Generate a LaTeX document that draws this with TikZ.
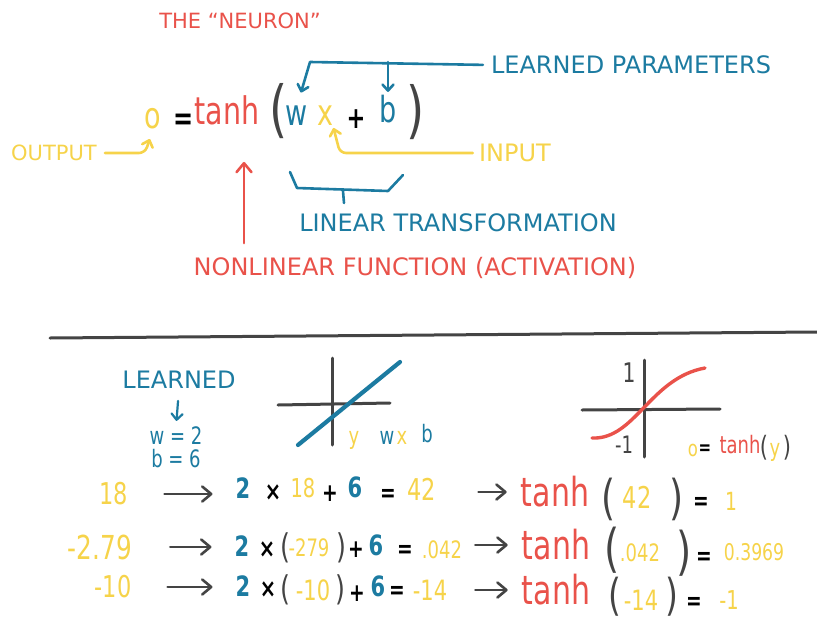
\documentclass[tikz,border=0pt]{standalone}
\usepackage{fontspec}
\setmainfont{DejaVu Sans}
\newfontfamily\narrowfont[FakeStretch=0.75]{DejaVu Sans}
\usetikzlibrary{arrows.meta}
\definecolor{nred}{HTML}{E9524A}
\definecolor{nblue}{HTML}{1C7BA1}
\definecolor{nyel}{HTML}{F6D34A}
\definecolor{ngrey}{HTML}{444444}

\begin{document}
\begin{tikzpicture}[x=1pt, y=-1pt,
  lbl/.style={inner sep=0, font=\fontsize{#1}{#1}\selectfont},
  hand/.style={inner sep=0, font=\narrowfont\fontsize{#1}{#1}\selectfont},
  hb/.style={inner sep=0, font=\narrowfont\bfseries\fontsize{#1}{#1}\selectfont},
  pen/.style={line width=2.6pt, line cap=round, line join=round},
  bigtip/.style={-{Straight Barb[round, length=9pt, width=15pt]}},
  smalltip/.style={-{Straight Barb[round, length=6pt, width=11pt]}},
  axis/.style={pen, ngrey, line width=3pt}]
  \useasboundingbox (0,0) rectangle (817,624);

  % the neuron
  \node[lbl=21, nred] (title) at (240,21) {THE “NEURON”};
  \node[hand=36, nyel] (o) at (153,119) {o};
  \node[hb=32] (eq) at (184,122) {=};
  \node[hand=38, nred] (tanh) at (227,110) {tanh};
  \node[hand=62, ngrey] (popen) at (279,111) {(};
  \node[hand=36, nblue] (w) at (297,116) {w};
  \node[hand=36, nyel] (x) at (325,116) {x};
  \node[hb=30] (plus) at (356,119) {+};
  \node[hand=36, nblue] (b) at (388,109) {b};
  \node[hand=62, ngrey] (pclose) at (416,112) {)};

  \node[lbl=24, nblue] (params) at (631,65) {LEARNED PARAMETERS};
  \node[lbl=24, nyel] (input) at (515,153) {INPUT};
  \node[lbl=21, nyel] (output) at (54,153) {OUTPUT};
  \node[lbl=24, nblue] (lin) at (458,223) {LINEAR TRANSFORMATION};
  \node[lbl=24, nred] (nonlin) at (415,268) {NONLINEAR FUNCTION (ACTIVATION)};

  \coordinate (pcorner) at (310,62);
  \draw[pen, nblue, smalltip, shorten <=8pt, shorten >=14pt] (params.west) -- (pcorner) -- (w.north);
  \draw[pen, nblue, smalltip, shorten >=3pt] (pcorner -| b.north) -- (b.north);
  \draw[pen, nyel, smalltip, rounded corners=6pt, shorten <=6pt, shorten >=2pt]
    (input.west) -- ([xshift=15pt]x.south |- input.west) -- ([xshift=8pt]x.south);
  \draw[pen, nyel, smalltip, rounded corners=6pt, shorten <=8pt, shorten >=10pt]
    (output.east) -- ([xshift=-8pt]o.south |- output.east) -- (o.south);
  \draw[pen, nred, bigtip, shorten <=14pt, shorten >=37pt]
    ([xshift=17pt]tanh.south |- nonlin.north) -- ([xshift=17pt]tanh.south);
  % bracket under wx + b
  \draw[pen, nblue] (290,172) -- (297,188) -- (388,191) -- (403,175);
  \draw[pen, nblue] (343,191) -- (344,203);

  \draw[axis] (50,338) -- (817,332);

  % learned values and the two plots
  \node[lbl=24, nblue] (learned) at (179,380) {LEARNED};
  \node[hand=24, nblue] (wval) at (176,436) {w = 2};
  \node[hand=24, nblue] (bval) at (176,459) {b = 6};
  \draw[pen, nblue, smalltip, line width=2.2pt, shorten <=12pt, shorten >=6pt] (learned.south) -- (wval.north);

  \draw[axis] (278,405) -- (390,403);
  \draw[axis] (332,358) -- (332,445);
  \draw[pen, nblue, line width=4.2pt] (298,445) -- (400,362);
  \node[hand=24, nyel] (gy) at (354,440) {y};
  \node[hand=24, nblue] (gw) at (387,438) {w};
  \node[hand=24, nyel] (gx) at (402,438) {x};
  \node[hand=24, nblue] (gb) at (427,434) {b};

  \draw[axis] (582,410) -- (720,409);
  \draw[axis] (644,360) -- (644,457);
  \draw[pen, nred, line width=3.4pt] (592,438) .. controls (635,440) and (650,378) .. (705,368);
  \node[hand=27, ngrey] (one) at (629,373) {1};
  \node[hand=24, ngrey] (mone) at (624,445) {-1};
  \node[hand=22, nyel] (go) at (693,450) {o};
  \node[hb=20] (geq) at (705,450) {=};
  \node[hand=24, nred] (gtanh) at (740,445) {tanh};
  \node[hand=28, ngrey] (gpo) at (764,448) {(};
  \node[hand=24, nyel] (gyy) at (775,452) {y};
  \node[hand=28, ngrey] (gpc) at (787,448) {)};

  % row 1
  \node[hand=30, nyel] (in1) at (114,494) {18};
  \node[hb=28, nblue] (w1) at (243,488) {2};
  \node[hb=26] (x1) at (273,493) {×};
  \node[hand=26, nyel] (v1) at (303,488) {18};
  \node[hb=25] (p1) at (330,494) {+};
  \node[hb=28, nblue] (b1) at (355,487) {6};
  \node[hb=25] (e1) at (388,495) {=};
  \node[hand=30, nyel] (z1) at (422,489) {42};
  \node[hand=40, nred] (t1) at (555,492) {tanh};
  \node[hand=48, ngrey] (tpo1) at (609,499) {(};
  \node[hand=30, nyel] (zz1) at (637,497) {42};
  \node[hand=48, ngrey] (tpc1) at (677,499) {)};
  \node[hb=25] (ee1) at (701,503) {=};
  \node[hand=25, nyel] (r1) at (731,501) {1};

  % row 2
  \node[hand=33, nyel] (in2) at (100,547) {-2.79};
  \node[hb=28, nblue] (w2) at (242,546) {2};
  \node[hb=26] (x2) at (267,550) {×};
  \node[hand=34, ngrey] (po2) at (285,548) {(};
  \node[hand=24, nyel] (v2) at (309,548) {-279};
  \node[hand=34, ngrey] (pc2) at (341,548) {)};
  \node[hb=25] (p2) at (356,550) {+};
  \node[hb=28, nblue] (b2) at (376,545) {6};
  \node[hb=25] (e2) at (405,551) {=};
  \node[hand=24, nyel] (z2) at (442,550) {.042};
  \node[hand=40, nred] (t2) at (556,545) {tanh};
  \node[hand=52, ngrey] (tpo2) at (612,550) {(};
  \node[hand=24, nyel] (zz2) at (640,553) {.042};
  \node[hand=52, ngrey] (tpc2) at (684,553) {)};
  \node[hb=25] (ee2) at (704,558) {=};
  \node[hand=23, nyel] (r2) at (754,552) {0.3969};

  % row 3
  \node[hand=30, nyel] (in3) at (113,587) {-10};
  \node[hb=28, nblue] (w3) at (243,586) {2};
  \node[hb=26] (x3) at (268,590) {×};
  \node[hand=34, ngrey] (po3) at (285,590) {(};
  \node[hand=28, nyel] (v3) at (313,590) {-10};
  \node[hand=34, ngrey] (pc3) at (340,590) {)};
  \node[hb=25] (p3) at (357,594) {+};
  \node[hb=28, nblue] (b3) at (378,586) {6};
  \node[hb=25] (e3) at (397,592) {=};
  \node[hand=28, nyel] (z3) at (430,590) {-14};
  \node[hand=40, nred] (t3) at (556,590) {tanh};
  \node[hand=44, ngrey] (tpo3) at (615,597) {(};
  \node[hand=28, nyel] (zz3) at (641,600) {-14};
  \node[hand=44, ngrey] (tpc3) at (672,597) {)};
  \node[hb=25] (ee3) at (694,603) {=};
  \node[hand=26, nyel] (r3) at (729,600) {-1};

  \draw[pen, ngrey, bigtip, shorten <=36pt, shorten >=23pt] (in1.east) -- (in1.east -| w1.west);
  \draw[pen, ngrey, bigtip, shorten <=38pt, shorten >=23pt] (in2.east) -- (in2.east -| w2.west);
  \draw[pen, ngrey, bigtip, shorten <=36pt, shorten >=23pt] (in3.east) -- (in3.east -| w3.west);
  \draw[pen, ngrey, bigtip, shorten <=42pt, shorten >=14pt] (t1.west -| z1.east) -- (t1.west);
  \draw[pen, ngrey, bigtip, shorten <=13pt, shorten >=14pt] (t2.west -| z2.east) -- (t2.west);
  \draw[pen, ngrey, bigtip, shorten <=28pt, shorten >=14pt] (t3.west -| z3.east) -- (t3.west);
\end{tikzpicture}
\end{document}
